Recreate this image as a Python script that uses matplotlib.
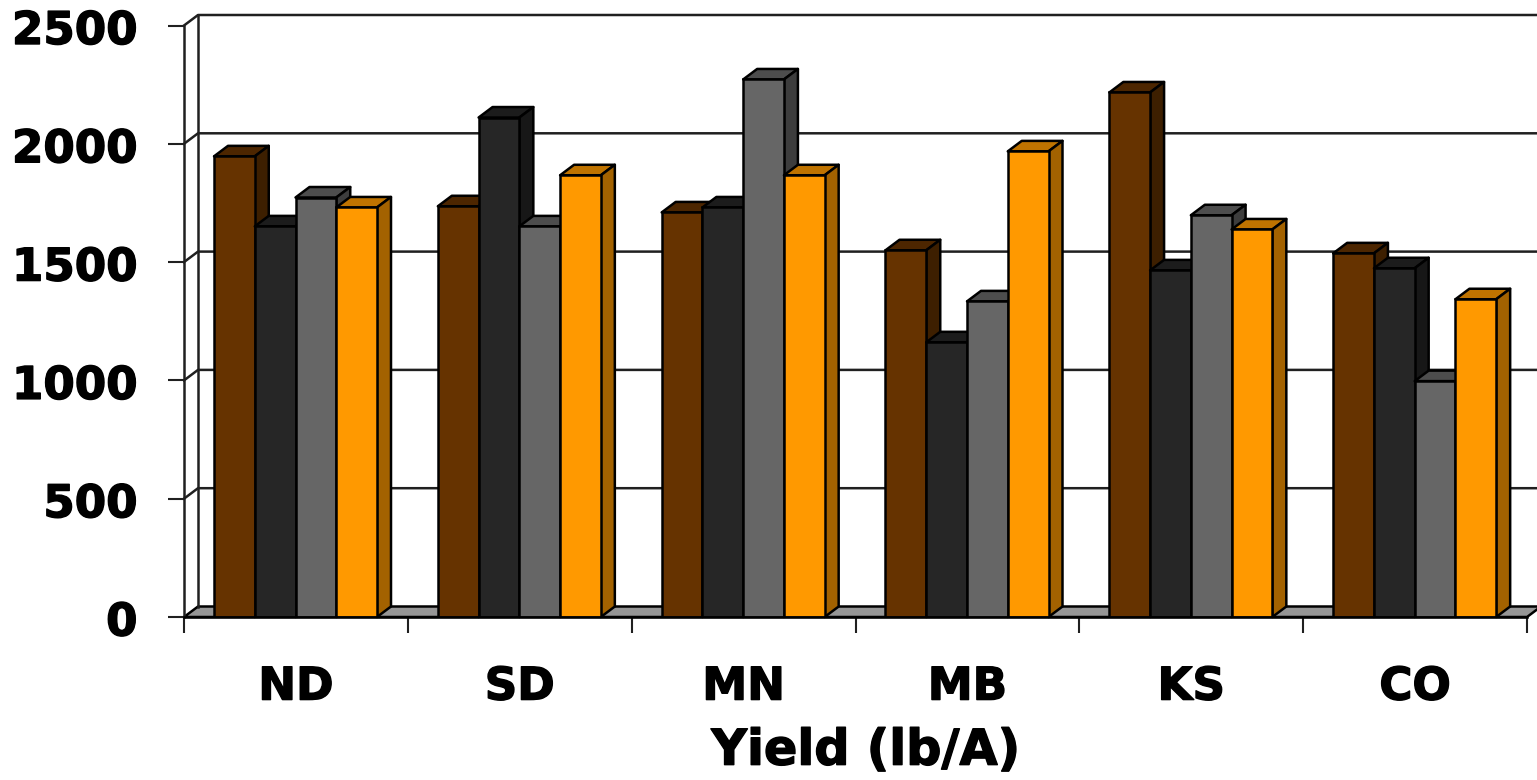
import numpy as np
import matplotlib
matplotlib.use('Agg')
import matplotlib.pyplot as plt
import matplotlib.patheffects as pe
from matplotlib.patches import Polygon
from matplotlib.transforms import ScaledTranslation

states = ['ND', 'SD', 'MN', 'MB', 'KS', 'CO']
yticks = [0, 500, 1000, 1500, 2000, 2500]
series_a = [1947, 1736, 1710, 1550, 2217, 1537]
series_b = [1651, 2111, 1731, 1161, 1465, 1474]
series_c = [1773, 1651, 2272, 1334, 1698, 997]
series_d = [1731, 1867, 1867, 1968, 1638, 1343]

series = [series_a, series_b, series_c, series_d]
front = ['#663300', '#262626', '#666666', '#ff9900']
top = ['#4d2600', '#1c1c1c', '#4d4d4d', '#bf7300']
side = ['#3d1f00', '#171717', '#3d3d3d', '#a36200']

W, H = 1537, 780
x0, x1, y0, y1 = 184, 1527, 617, 25.5

fig = plt.figure(figsize=(W / 100, H / 100), dpi=100)
ax = fig.add_axes([x0 / W, 1 - y0 / H, (x1 - x0) / W, (y0 - y1) / H])
ax.set_xlim(0, 6)
ax.set_ylim(0, 2500)
for s in ax.spines.values():
    s.set_visible(False)

# depth of the fake 3d, px converted to data units
dx = 14 / ((x1 - x0) / 6)
dy = 10.5 / ((y0 - y1) / 2500)
bar_w = 40.75 / ((x1 - x0) / 6)
offset = 30 / ((x1 - x0) / 6)
lw = 1.8


def face(pts, color, z):
    ax.add_patch(Polygon(pts, closed=True, facecolor=color, edgecolor='black',
                         linewidth=lw, joinstyle='round', clip_on=False, zorder=z))


# floor and walls
face([(0, 0), (dx, dy), (6 + dx, dy), (6, 0)], '#969696', 1)
for v in yticks[1:]:
    ax.plot([0, dx, 6 + dx], [v, v + dy, v + dy], color='#202020', lw=lw,
            clip_on=False, zorder=1)
ax.plot([0, 0], [0, 2500], color='#202020', lw=lw, clip_on=False, zorder=1)
ax.plot([dx, dx], [dy, 2500 + dy], color='#202020', lw=lw, clip_on=False, zorder=1)
ax.plot([0, 6], [0, 0], color='black', lw=lw, clip_on=False, zorder=50)

z = 2
for i in range(len(states)):
    for j in range(4):
        v = series[j][i]
        left = i + offset + j * bar_w
        right = left + bar_w
        face([(left, v), (left + dx, v + dy), (right + dx, v + dy), (right, v)], top[j], z)
        face([(right, 0), (right + dx, dy), (right + dx, v + dy), (right, v)], side[j], z)
        ax.bar(left, v, width=bar_w, align='edge', color=front[j], edgecolor='black',
               linewidth=lw, zorder=z + 0.5)
        z += 1

ax.set_yticks(yticks)
ax.set_xticks(np.arange(7))
ax.set_xticklabels([])
ax.set_xticks(np.arange(6) + 0.5, minor=True)
ax.set_xticklabels(states, minor=True)
ax.tick_params(axis='both', which='major', length=11.5, width=1.5, color='#202020')
ax.tick_params(axis='y', which='major', pad=22)
ax.tick_params(axis='x', which='minor', length=0, pad=35)

heavy = [pe.withStroke(linewidth=1.0, foreground='black')]
for t in ax.get_yticklabels() + ax.get_xticklabels(minor=True):
    t.set_fontsize(32.5)
    t.set_fontweight('bold')
    t.set_path_effects(heavy)
for t in ax.get_yticklabels():
    t.set_transform(t.get_transform() + ScaledTranslation(0, -1.5 / 100, fig.dpi_scale_trans))

ax.set_xlabel('Yield (lb/A)', fontsize=35.5, fontweight='bold', x=0.5075, labelpad=13,
              path_effects=heavy)

fig.savefig('out.png', dpi=100, facecolor='white')
